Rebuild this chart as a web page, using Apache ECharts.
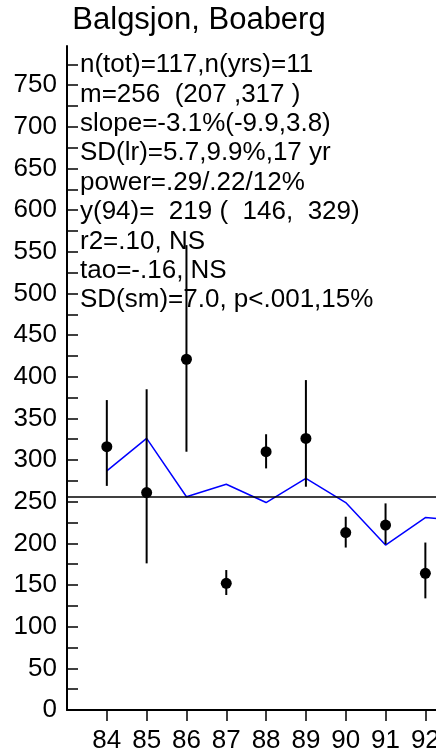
<!DOCTYPE html>
<html><head><meta charset="utf-8">
<script src="https://cdn.jsdelivr.net/npm/echarts@6/dist/echarts.min.js"></script>
<style>
html,body{margin:0;padding:0;background:#fff;overflow:hidden}
#clip{position:absolute;left:0;top:0;width:436px;height:756px;overflow:hidden;background:#fff}
#chart{width:520px;height:756px}
</style></head>
<body><div id="clip"><div id="chart"></div></div>
<script>
const years = [84, 85, 86, 87, 88, 89, 90, 91, 92];
const means = [316, 261, 421, 152, 310, 326, 213, 222, 164];
const lows  = [269, 176, 310, 138, 290, 268, 195, 199, 134];
const highs = [372, 385, 558, 168, 331, 396, 232, 248, 201];
const smoothYears = [84, 85, 86, 87, 88, 89, 90, 91, 92, 93];
const smoothed    = [287, 326, 256, 271, 249, 278, 249, 198, 231, 227];
const overallMean = 256;
const yTickValues  = [0,25,50,75,100,125,150,175,200,225,250,275,300,325,350,375,400,425,450,475,500,525,550,575,600,625,650,675,700,725,750,775];
const yLabelValues = [0,50,100,150,200,250,300,350,400,450,500,550,600,650,700,750];
const xLabelValues = [84, 85, 86, 87, 88, 89, 90, 91, 92];
const titleText = 'Balgsjon, Boaberg';
const statLines = [
  'n(tot)=117,n(yrs)=11',
  'm=256  (207 ,317 )',
  'slope=-3.1%(-9.9,3.8)',
  'SD(lr)=5.7,9.9%,17 yr',
  'power=.29/.22/12%',
  'y(94)=  219 (  146,  329)',
  'r2=.10, NS',
  'tao=-.16, NS',
  'SD(sm)=7.0, p<.001,15%'
];

const FONT = '"Liberation Sans", Arial, Helvetica, sans-serif';
const chart = echarts.init(document.getElementById('chart'), null, {renderer: 'canvas'});

const graphics = [{
  type: 'text', x: 199, y: 20,
  style: {text: titleText, font: '31px ' + FONT, fill: '#000', align: 'center', verticalAlign: 'middle'}
}];
statLines.forEach((t, i) => {
  graphics.push({
    type: 'text', x: 80, y: 65 + i * 29.4,
    style: {text: t, font: '26px ' + FONT, fill: '#000', align: 'left', verticalAlign: 'middle'}
  });
});

const option = {
  animation: false,
  backgroundColor: '#fff',
  grid: {left: 67, top: 46, width: 438, height: 664, containLabel: false},
  xAxis: {
    type: 'value', min: 83, max: 94,
    axisLine: {show: true, lineStyle: {color: '#000', width: 2}},
    axisTick: {show: true, inside: false, length: 11, customValues: xLabelValues, lineStyle: {color: '#000', width: 1.5}},
    axisLabel: {customValues: xLabelValues, margin: 18, fontSize: 26, fontFamily: FONT, color: '#000'},
    splitLine: {show: false}
  },
  yAxis: {
    type: 'value', min: 0, max: 797,
    axisLine: {show: true, lineStyle: {color: '#000', width: 2}},
    axisTick: {show: true, inside: true, length: 11, customValues: yTickValues, lineStyle: {color: '#000', width: 1.5}},
    axisLabel: {customValues: yLabelValues, margin: 10, fontSize: 26, fontFamily: FONT, color: '#000'},
    splitLine: {show: false}
  },
  graphic: graphics,
  series: [
    {
      type: 'line',
      data: smoothYears.map((x, i) => [x, smoothed[i]]),
      showSymbol: false, symbol: 'none',
      lineStyle: {color: '#0000ff', width: 1.5},
      clip: true,
      markLine: {
        silent: true, symbol: 'none', label: {show: false},
        lineStyle: {color: '#000', width: 1.5, type: 'solid'},
        data: [{yAxis: overallMean}]
      },
      z: 3
    },
    {
      type: 'custom',
      data: years.map((x, i) => [x, lows[i], highs[i]]),
      renderItem: function (params, api) {
        const x = api.value(0);
        const p1 = api.coord([x, api.value(1)]);
        const p2 = api.coord([x, api.value(2)]);
        return {
          type: 'line',
          shape: {x1: p1[0], y1: p1[1], x2: p2[0], y2: p2[1]},
          style: {stroke: '#000', lineWidth: 2}
        };
      },
      z: 4
    },
    {
      type: 'scatter',
      data: years.map((x, i) => [x, means[i]]),
      symbol: 'circle', symbolSize: 11,
      itemStyle: {color: '#000', opacity: 1},
      z: 5
    }
  ]
};
chart.setOption(option);
</script>
</body></html>
